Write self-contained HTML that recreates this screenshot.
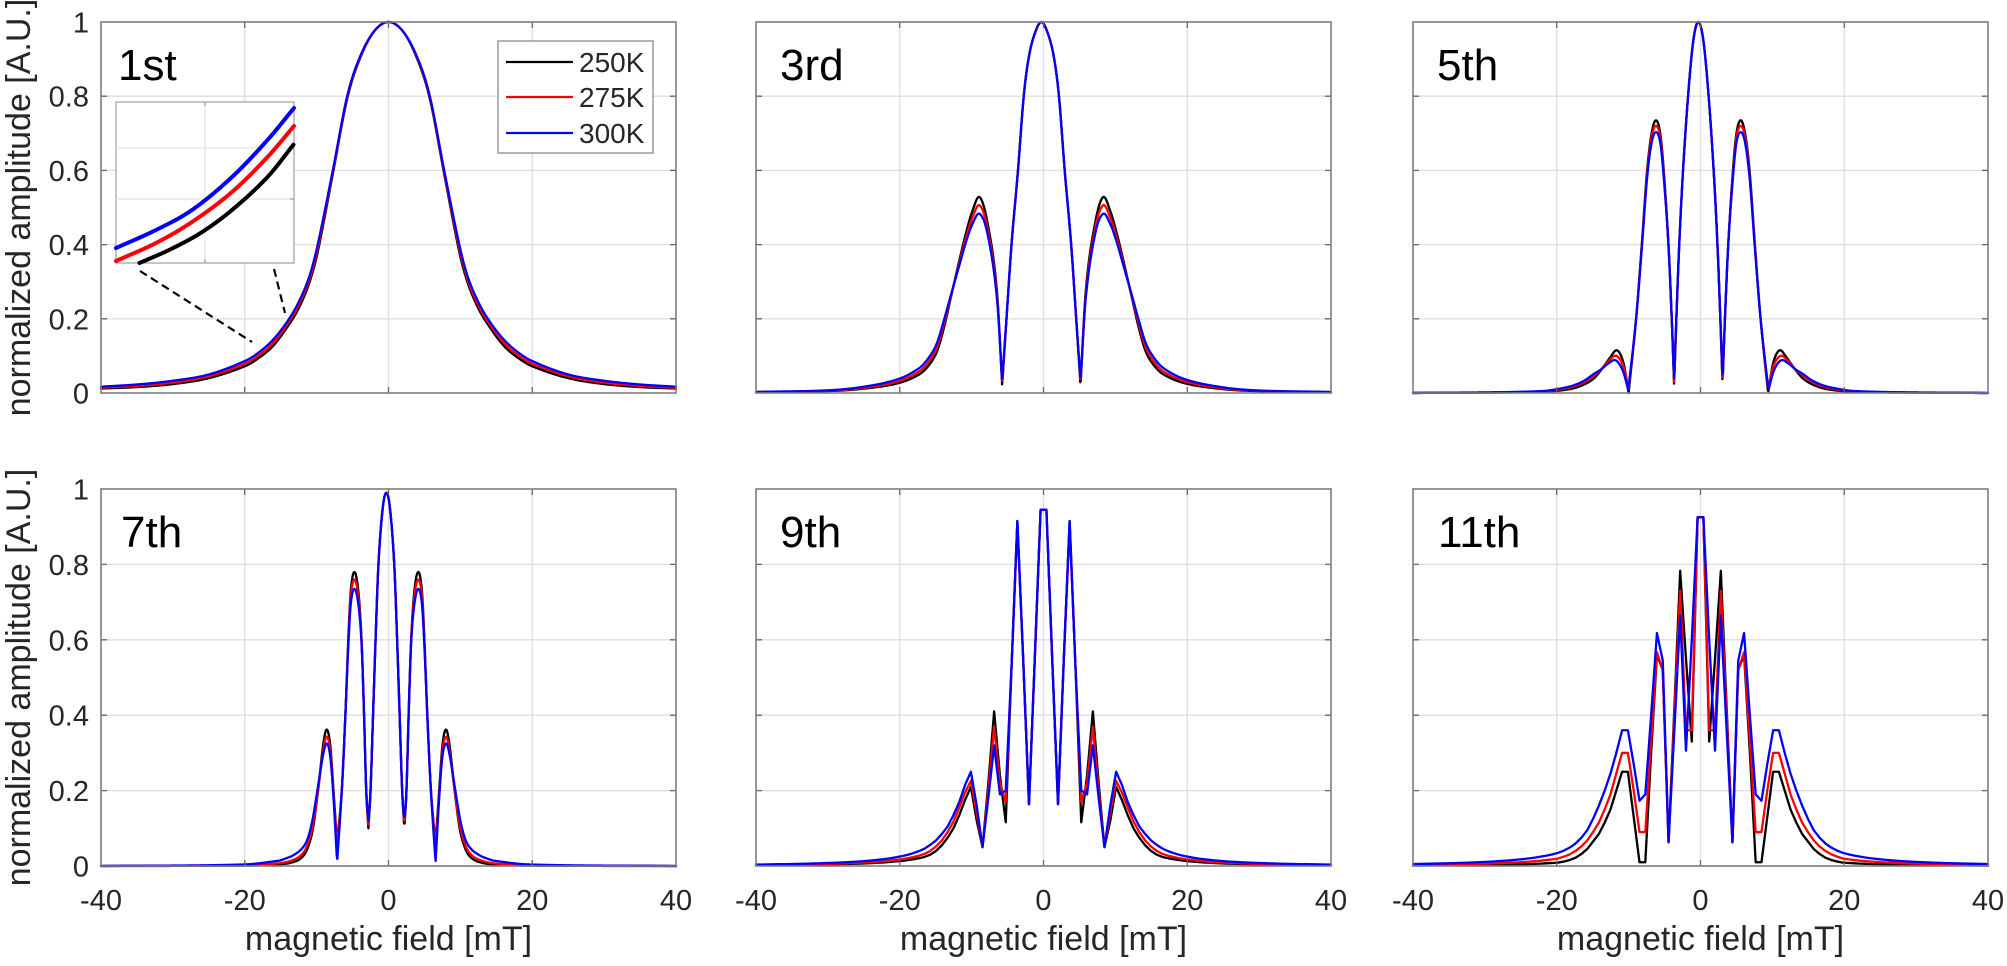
<!DOCTYPE html>
<html><head><meta charset="utf-8"><style>
html,body{margin:0;padding:0;background:#fff;}
svg{display:block;font-family:"Liberation Sans",Arial,sans-serif;}
</style></head><body>
<svg id="S" width="2007" height="966" viewBox="0 0 2007 966" xmlns="http://www.w3.org/2000/svg">
<defs>
<g id="gT"><path d="M143.75 0V371M287.5 0V371M431.25 0V371M0 74.2H575M0 148.4H575M0 222.6H575M0 296.8H575" stroke="#dedede" stroke-width="1.3" fill="none"/></g>
<g id="gB"><path d="M143.75 0V377M287.5 0V377M431.25 0V377M0 75.4H575M0 150.8H575M0 226.2H575M0 301.6H575" stroke="#dedede" stroke-width="1.3" fill="none"/></g>
<g id="bT"><path d="M143.75 371v-6M287.5 371v-6M431.25 371v-6M143.75 0v6M287.5 0v6M431.25 0v6M0 74.2h6M0 148.4h6M0 222.6h6M0 296.8h6M575 74.2h-6M575 148.4h-6M575 222.6h-6M575 296.8h-6" stroke="#666" stroke-width="1.3" fill="none"/><rect x="0" y="0" width="575" height="371" fill="none" stroke="#7d7d7d" stroke-width="1.6"/></g>
<g id="bB"><path d="M143.75 377v-6M287.5 377v-6M431.25 377v-6M143.75 0v6M287.5 0v6M431.25 0v6M0 75.4h6M0 150.8h6M0 226.2h6M0 301.6h6M575 75.4h-6M575 150.8h-6M575 226.2h-6M575 301.6h-6" stroke="#666" stroke-width="1.3" fill="none"/><rect x="0" y="0" width="575" height="377" fill="none" stroke="#7d7d7d" stroke-width="1.6"/></g>
</defs>

<!-- Panel 1 -->
<g transform="translate(101,22)"><rect width="575" height="371" fill="#fff"/><use href="#gT"/></g>
<g id="c0"></g>
<!-- inset -->
<rect x="116" y="102" width="178" height="161" fill="#fff" stroke="#a0a0a0" stroke-width="1.2"/>
<path d="M205 102V263M116 148H294M116 199H294" stroke="#e2e2e2" stroke-width="1.2" fill="none"/>
<path d="M294 148h-4M294 199h-4M205 263v-4M205 102v4" stroke="#888" stroke-width="1" fill="none"/>
<g id="ins"></g>
<path d="M140 271L252 342M274 269L285 313" stroke="#000" stroke-width="2.2" stroke-dasharray="8,5" fill="none"/>
<!-- legend -->
<rect x="498" y="41" width="155" height="112" fill="#fff" stroke="#8a8a8a" stroke-width="1.3"/>
<path d="M506 62H573" stroke="#000" stroke-width="2.3"/>
<path d="M506 97H573" stroke="#ff0000" stroke-width="2.3"/>
<path d="M506 133H573" stroke="#0000ff" stroke-width="2.3"/>
<text x="579" y="72" font-size="28" fill="#262626">250K</text>
<text x="579" y="107" font-size="28" fill="#262626">275K</text>
<text x="579" y="143" font-size="28" fill="#262626">300K</text>
<g transform="translate(101,22)"><use href="#bT"/></g>

<!-- Panel 2 -->
<g transform="translate(756,22)"><rect width="575" height="371" fill="#fff"/><use href="#gT"/></g>
<g id="c1"></g>
<g transform="translate(756,22)"><use href="#bT"/></g>

<!-- Panel 3 -->
<g transform="translate(1413,22)"><rect width="575" height="371" fill="#fff"/><use href="#gT"/></g>
<g id="c2"></g>
<g transform="translate(1413,22)"><use href="#bT"/></g>

<!-- Panel 4 -->
<g transform="translate(101,489)"><rect width="575" height="377" fill="#fff"/><use href="#gB"/></g>
<g id="c3"></g>
<g transform="translate(101,489)"><use href="#bB"/></g>

<!-- Panel 5 -->
<g transform="translate(756,489)"><rect width="575" height="377" fill="#fff"/><use href="#gB"/></g>
<g id="c4"></g>
<g transform="translate(756,489)"><use href="#bB"/></g>

<!-- Panel 6 -->
<g transform="translate(1413,489)"><rect width="575" height="377" fill="#fff"/><use href="#gB"/></g>
<g id="c5"></g>
<g transform="translate(1413,489)"><use href="#bB"/></g>

<!-- titles -->
<g font-size="44" fill="#000">
<text x="118" y="80">1st</text>
<text x="780" y="80">3rd</text>
<text x="1437" y="80">5th</text>
<text x="121" y="547">7th</text>
<text x="780" y="547">9th</text>
<text x="1438" y="547">11th</text>
</g>

<!-- y tick labels -->
<g font-size="29" fill="#262626" text-anchor="end">
<text x="89" y="32.5">1</text>
<text x="89" y="106.7">0.8</text>
<text x="89" y="180.9">0.6</text>
<text x="89" y="255.1">0.4</text>
<text x="89" y="329.3">0.2</text>
<text x="89" y="403.5">0</text>
<text x="89" y="499.5">1</text>
<text x="89" y="574.9">0.8</text>
<text x="89" y="650.3">0.6</text>
<text x="89" y="725.7">0.4</text>
<text x="89" y="801.1">0.2</text>
<text x="89" y="876.5">0</text>
</g>

<!-- x tick labels -->
<g font-size="29" fill="#262626" text-anchor="middle">
<text x="101" y="910">-40</text><text x="244.75" y="910">-20</text><text x="388.5" y="910">0</text><text x="532.25" y="910">20</text><text x="676" y="910">40</text>
<text x="756" y="910">-40</text><text x="899.75" y="910">-20</text><text x="1043.5" y="910">0</text><text x="1187.25" y="910">20</text><text x="1331" y="910">40</text>
<text x="1413" y="910">-40</text><text x="1556.75" y="910">-20</text><text x="1700.5" y="910">0</text><text x="1844.25" y="910">20</text><text x="1988" y="910">40</text>
</g>

<!-- axis labels -->
<g font-size="34" fill="#262626" text-anchor="middle">
<text x="388.5" y="950">magnetic field [mT]</text>
<text x="1043.5" y="950">magnetic field [mT]</text>
<text x="1700.5" y="950">magnetic field [mT]</text>
<text transform="translate(30,207.5) rotate(-90)">normalized amplitude [A.U.]</text>
<text transform="translate(30,677.5) rotate(-90)">normalized amplitude [A.U.]</text>
</g>
</svg>

<script>
(function(){
var NS='http://www.w3.org/2000/svg';
function mk(p,sym){
 var n=p.length,m=new Array(n),i;
 for(i=0;i<n;i++){
  if(i===0)m[i]=(p[1][1]-p[0][1])/(p[1][0]-p[0][0]);
  else if(i===n-1)m[i]=(p[i][1]-p[i-1][1])/(p[i][0]-p[i-1][0]);
  else m[i]=(p[i+1][1]-p[i-1][1])/(p[i+1][0]-p[i-1][0]);
 }
 if(sym)m[0]=0;
 return function(x){
  if(x<=p[0][0])return p[0][1];
  if(x>=p[n-1][0])return p[n-1][1];
  var j=0;while(p[j+1][0]<x)j++;
  var a=p[j],b=p[j+1],h=b[0]-a[0],t=(x-a[0])/h,sl=(b[1]-a[1])/h;
  var m0=a[2]?sl:m[j],m1=b[2]?sl:m[j+1];
  var t2=t*t,t3=t2*t;
  return (2*t3-3*t2+1)*a[1]+(t3-2*t2+t)*h*m0+(-2*t3+3*t2)*b[1]+(t3-t2)*h*m1;
 };
}
function addPath(gid,d,col,w){
 var g=document.getElementById(gid);
 var p=document.createElementNS(NS,'path');
 p.setAttribute('d',d);p.setAttribute('fill','none');p.setAttribute('stroke',col);
 p.setAttribute('stroke-width',w);p.setAttribute('stroke-linejoin','round');p.setAttribute('stroke-linecap','round');
 g.appendChild(p);
}
function pathS(L,T,H,c,f){
 var d='',i,x,v,px,py;
 for(i=0;i<=1000;i++){
  x=-40+i*0.08;
  v=f(Math.abs(x-c));v=Math.max(0,Math.min(1,v));
  px=L+(x+40)/80*575;py=T+(1-v)*H;
  d+=(i?'L':'M')+px.toFixed(2)+' '+py.toFixed(2);
 }
 return d;
}
function pathG(L,T,H,arr){
 var d='',i,x,r,k,v,px,py,xl=40/99+80/99*(arr.length-1),last=arr[arr.length-1];
 for(i=0;i<100;i++){
  x=-40+80*i/99;r=Math.abs(x);
  k=Math.round((r-40/99)/(80/99));
  v=k<arr.length?arr[k]:last*Math.pow((xl-7)/(r-7),2);
  px=L+(x+40)/80*575;py=T+(1-v)*H;
  d+=(i?'L':'M')+px.toFixed(2)+' '+py.toFixed(2);
 }
 return d;
}
var COL=['#000000','#ff0000','#0000ff'],LW=2.3;

// 1st
var P1=[
[[0,1],[2,0.975],[4,0.9],[5.75,0.793],[7.75,0.59],[9.85,0.38],[11,0.298],[12.5,0.228],[14,0.18],[16,0.128],[18,0.095],[20,0.072],[25,0.04],[30,0.024],[35,0.016],[40,0.012]],
[[0,1],[2,0.975],[4,0.902],[5.75,0.797],[7.75,0.595],[9.85,0.39],[11,0.306],[12.5,0.236],[14,0.187],[16,0.136],[18,0.102],[20,0.079],[25,0.045],[30,0.028],[35,0.019],[40,0.014]],
[[0,1],[2,0.975],[4,0.905],[5.75,0.8],[7.75,0.6],[9.85,0.4],[11,0.315],[12.5,0.245],[14,0.195],[16,0.145],[18,0.11],[20,0.086],[25,0.05],[30,0.033],[35,0.023],[40,0.017]]];
// 3rd
var P2=[
[[0,1],[0.8,0.975],[1.7,0.91],[2.45,0.8],[3.25,0.6],[4.15,0.4],[4.85,0.2],[5.45,0.02,1],[6.2,0.28],[7.5,0.46],[8.6,0.528],[9.6,0.49],[10.5,0.43],[11.5,0.35],[12.5,0.265],[13.5,0.18],[14.5,0.113],[15.6,0.076],[17,0.05],[20,0.026],[25,0.011],[30,0.005],[40,0.002]],
[[0,1],[0.8,0.975],[1.7,0.91],[2.45,0.8],[3.25,0.6],[4.15,0.4],[4.85,0.2],[5.45,0.03,1],[6.2,0.27],[7.5,0.445],[8.6,0.506],[9.6,0.472],[10.5,0.418],[11.5,0.343],[12.5,0.267],[13.5,0.19],[14.5,0.124],[15.6,0.086],[17,0.058],[20,0.031],[25,0.013],[30,0.006],[40,0.002]],
[[0,1],[0.8,0.975],[1.7,0.91],[2.45,0.8],[3.25,0.6],[4.15,0.4],[4.85,0.2],[5.45,0.035,1],[6.2,0.26],[7.5,0.43],[8.6,0.483],[9.6,0.455],[10.5,0.406],[11.5,0.338],[12.5,0.27],[13.5,0.2],[14.5,0.136],[15.6,0.097],[17,0.067],[20,0.037],[25,0.016],[30,0.007],[40,0.003]]];
// 5th
var P3=[
[[0,1],[0.7,0.95],[1.43,0.8],[2.13,0.6],[2.66,0.4],[3.06,0.2],[3.37,0.02,1],[3.7,0.2],[4.16,0.4],[4.81,0.6],[5.3,0.7],[5.9,0.735],[6.5,0.7],[7.13,0.6],[7.87,0.4],[8.66,0.2],[9.7,0,1],[10.4,0.08],[11.3,0.115],[12.3,0.095],[13.3,0.068],[14.5,0.04],[16,0.022],[18,0.01],[22,0.003],[40,0]],
[[0,1],[0.7,0.95],[1.43,0.8],[2.13,0.6],[2.66,0.4],[3.06,0.2],[3.37,0.025,1],[3.7,0.2],[4.16,0.4],[4.81,0.59],[5.3,0.69],[5.9,0.72],[6.5,0.69],[7.13,0.59],[7.87,0.395],[8.66,0.2],[9.7,0.01,1],[10.4,0.07],[11.4,0.1],[12.4,0.088],[13.4,0.066],[14.5,0.048],[16,0.028],[18,0.014],[22,0.004],[40,0]],
[[0,1],[0.7,0.95],[1.43,0.8],[2.13,0.6],[2.66,0.4],[3.06,0.2],[3.37,0.035,1],[3.7,0.2],[4.16,0.4],[4.81,0.58],[5.3,0.675],[5.9,0.703],[6.5,0.675],[7.13,0.58],[7.87,0.39],[8.66,0.2],[9.75,0.008,1],[10.5,0.06],[11.5,0.088],[12.5,0.08],[13.5,0.064],[14.5,0.052],[16,0.032],[18,0.017],[22,0.005],[40,0]]];
// 7th
var P4=[
[[0,0.99],[0.5,0.95],[1.1,0.8],[1.5,0.6],[1.85,0.4],[2.2,0.2],[2.5,0.1,1],[2.8,0.2],[3.1,0.4],[3.45,0.6],[3.9,0.73],[4.45,0.78],[4.95,0.73],[5.3,0.6],[5.7,0.4],[6.2,0.2],[6.85,0.06,1],[7.35,0.2],[7.8,0.32],[8.3,0.362],[8.8,0.32],[9.5,0.2],[10.2,0.1],[11,0.045],[11.8,0.022],[13,0.01],[15,0.004],[20,0.001],[40,0]],
[[0,0.99],[0.5,0.95],[1.1,0.8],[1.5,0.6],[1.85,0.4],[2.2,0.2],[2.5,0.11,1],[2.8,0.2],[3.1,0.4],[3.45,0.6],[3.9,0.715],[4.45,0.76],[4.95,0.715],[5.3,0.59],[5.7,0.4],[6.2,0.2],[6.85,0.05,1],[7.35,0.19],[7.8,0.305],[8.3,0.343],[8.8,0.305],[9.5,0.2],[10.2,0.11],[11,0.055],[11.8,0.03],[13,0.016],[15,0.007],[20,0.002],[40,0]],
[[0,0.99],[0.5,0.95],[1.1,0.8],[1.5,0.6],[1.85,0.4],[2.2,0.2],[2.5,0.12,1],[2.8,0.2],[3.1,0.4],[3.45,0.59],[3.9,0.695],[4.45,0.735],[4.95,0.695],[5.3,0.58],[5.7,0.4],[6.2,0.2],[6.85,0.01,1],[7.35,0.18],[7.8,0.29],[8.3,0.325],[8.8,0.295],[9.6,0.2],[10.3,0.12],[11,0.07],[11.8,0.045],[13,0.028],[14,0.02],[15,0.014],[20,0.004],[40,0]]];
// 9th (grid values)
var P5=[
[0.945,0.55,0.164,0.55,0.915,0.53,0.116,0.24,0.41,0.22,0.05,0.12,0.21,0.175,0.135,0.1,0.075,0.055,0.04,0.03,0.024],
[0.945,0.55,0.164,0.55,0.91,0.53,0.17,0.22,0.37,0.2,0.05,0.14,0.226,0.195,0.155,0.118,0.09,0.068,0.052,0.04,0.032],
[0.945,0.55,0.164,0.55,0.915,0.53,0.2,0.19,0.32,0.18,0.05,0.16,0.25,0.215,0.17,0.135,0.105,0.085,0.068,0.056,0.046]];
// 11th (grid values)
var P6=[
[0.925,0.33,0.55,0.783,0.42,0.063,0.52,0.56,0.3,0.01,0.01,0.13,0.25,0.25,0.2,0.15,0.115,0.085,0.065,0.045,0.032,0.022,0.016,0.012,0.009],
[0.925,0.36,0.36,0.73,0.4,0.063,0.52,0.567,0.33,0.09,0.09,0.2,0.3,0.3,0.245,0.19,0.15,0.115,0.09,0.068,0.052,0.04,0.031,0.025,0.02],
[0.925,0.6,0.306,0.664,0.36,0.063,0.545,0.618,0.4,0.19,0.173,0.27,0.36,0.36,0.3,0.245,0.2,0.16,0.125,0.095,0.075,0.06,0.049,0.041,0.035]];

var S=[[P1,101,22,371,0],[P2,756,22,371,-0.3],[P3,1413,22,371,-0.3],[P4,101,489,377,-0.3]];
var i,j;
for(i=0;i<S.length;i++){
 for(j=0;j<3;j++){
  addPath('c'+i,pathS(S[i][1],S[i][2],S[i][3],S[i][4],mk(S[i][0][j],true)),COL[j],LW);
 }
}
var G=[[P5,756,489,377],[P6,1413,489,377]];
for(i=0;i<G.length;i++){
 for(j=0;j<3;j++){
  addPath('c'+(4+i),pathG(G[i][1],G[i][2],G[i][3],G[i][0][j]),COL[j],LW);
 }
}
// inset curves
var INS=[
[[139.5,263],[169,250],[200.6,233],[232,210],[267.5,177],[294,144]],
[[116,261],[156,243],[192,222],[232,192],[267.5,157],[294,126]],
[[116,248],[156,230],[192,210],[232,177],[267.5,140],[294,108]]];
for(j=0;j<3;j++){
 var f=mk(INS[j],false),x0=INS[j][0][0],d='',x;
 for(x=x0;x<=294.01;x+=1){d+=(x===x0?'M':'L')+x.toFixed(1)+' '+f(x).toFixed(2);}
 addPath('ins',d,COL[j],4);
}
})();
</script>
</body></html>
